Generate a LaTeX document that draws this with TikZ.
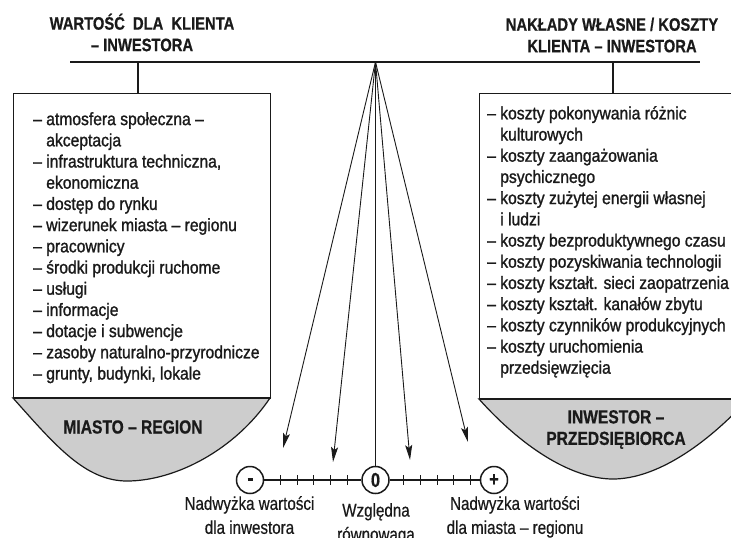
\documentclass[tikz,border=0pt]{standalone}
\usepackage{fontspec}
\setmainfont{Liberation Sans}
\newfontfamily\bodyfont{Liberation Sans}[FakeStretch=0.88,FakeBold=1.2]
\newfontfamily\headfont{Liberation Sans}[FakeStretch=0.82,FakeBold=0.6]
\newfontfamily\capfont{Liberation Sans}[FakeStretch=0.82,FakeBold=0.5]
\usetikzlibrary{arrows.meta}
\definecolor{ink}{HTML}{1A1A1A}
\definecolor{bowlgray}{HTML}{CDCDCD}

\begin{document}
\begin{tikzpicture}[x=1pt,y=-1pt,
  every node/.style={inner sep=0pt, text=ink},
  heading/.style={align=center, anchor=north, font=\headfont\bfseries\fontsize{18}{21.5}\selectfont},
  frame/.style={draw=ink, line width=1.3pt, rectangle, anchor=north west},
  listtext/.style={align=left, anchor=north west, font=\bodyfont\fontsize{17.8}{21.2}\selectfont},
  basin/.style={fill=bowlgray, draw=ink, line width=1.2pt},
  basinlabel/.style={align=center, font=\headfont\bfseries\fontsize{19}{21.5}\selectfont},
  fan/.style={draw=ink, line width=0.9pt},
  fanarrow/.style={fan, -{Stealth[length=15pt,width=7pt,inset=3pt]}},
  dial/.style={circle, draw=ink, line width=1.5pt, minimum size=27pt, fill=white,
    font=\headfont\bfseries\fontsize{20}{20}\selectfont},
  caption/.style={align=center, anchor=north, font=\capfont\fontsize{18.5}{24}\selectfont},
]
\useasboundingbox (0,0) rectangle (731,538);
\fill[white] (0,0) rectangle (731,538);
\clip (0,0) rectangle (731,538);

% headings over the two pans
\node[heading] (headL) at (142,13.5) {WARTOŚĆ\hspace{4pt} DLA\hspace{4pt} KLIENTA\\– INWESTORA};
\node[heading] (headR) at (612,17.5) {NAKŁADY WŁASNE / KOSZTY\\KLIENTA – INWESTORA};

% balance beam and pivot
\coordinate (beamL) at (70,62);
\coordinate (beamR) at (700,62);
\coordinate (pivot) at (375.5,62);
\coordinate (hookL) at (138,62);
\coordinate (hookR) at (613,62);
\draw[ink, line width=2.4pt] (beamL) -- (beamR);

% pans
\node[frame, minimum width=257pt, minimum height=305pt] (boxL) at (13,93) {};
\node[frame, minimum width=269pt, minimum height=306pt] (boxR) at (479,93) {};
\draw[ink, line width=1.3pt] (hookL) -- (hookL |- boxL.north);
\draw[ink, line width=1.3pt] (hookR) -- (hookR |- boxR.north);

% bowls under the pans
\draw[basin] (13,398) .. controls (55,445) and (85,481) .. (127,481)
  .. controls (175,481) and (235,450) .. (270,398) -- cycle;
\draw[basin] (479,399) .. controls (520,445) and (570,479) .. (613,479)
  .. controls (656,479) and (706,445) .. (748,399) -- cycle;
\draw[ink, line width=1.8pt] (13,398) -- (270,398);
\draw[ink, line width=1.8pt] (479,399) -- (748,399);

\node[basinlabel] (cityL) at (133,427) {MIASTO – REGION};
\node[basinlabel] (invR) at (616,429.5) {INWESTOR –\\PRZEDSIĘBIORCA};

% lists of factors
\node[listtext] (listL) at (33,112) {%
– atmosfera społeczna –\\
\hphantom{–\ }akceptacja\\
– infrastruktura techniczna,\\
\hphantom{–\ }ekonomiczna\\
– dostęp do rynku\\
– wizerunek miasta – regionu\\
– pracownicy\\
– środki produkcji ruchome\\
– usługi\\
– informacje\\
– dotacje i subwencje\\
– zasoby naturalno-przyrodnicze\\
– grunty, budynki, lokale};

\node[listtext] (listR) at (487,106) {%
– koszty pokonywania różnic\\
\hphantom{–\ }kulturowych\\
– koszty zaangażowania\\
\hphantom{–\ }psychicznego\\
– koszty zużytej energii własnej\\
\hphantom{–\ }i ludzi\\
– koszty bezproduktywnego czasu\\
– koszty pozyskiwania technologii\\
– koszty kształt. sieci zaopatrzenia\\
– koszty kształt. kanałów zbytu\\
– koszty czynników produkcyjnych\\
– koszty uruchomienia\\
\hphantom{–\ }przedsięwzięcia};

% scale
\node[dial] (minus) at (250,480) {\raisebox{1pt}{\rule{5pt}{2.6pt}}};
\node[dial] (zero) at (375.5,480) {0};
\node[dial] (plus) at (494,480) {+};
\draw[ink, line width=1.3pt] (minus) -- (zero);
\draw[ink, line width=1.3pt] (zero) -- (plus);
\foreach \tx in {280,297,313,330,347,403,420,437,453,470}
  \draw[ink, line width=1pt] (\tx,475) -- (\tx,485);

% pointer fan from the pivot
\coordinate (tipA) at (283,448);
\coordinate (tipB) at (333,462);
\coordinate (tipC) at (410,460);
\coordinate (tipD) at (468,442);
\draw[fan, line width=1.3pt] (pivot) -- (zero.north);
\draw[fanarrow] (pivot) -- (tipA);
\draw[fanarrow] (pivot) -- (tipB);
\draw[fanarrow] (pivot) -- (tipC);
\draw[fanarrow] (pivot) -- (tipD);

% captions under the scale
\node[caption] (capL) at (249.5,496) {Nadwyżka wartości\\dla inwestora};
\node[caption] (capM) at (376,503) {Względna\\równowaga};
\node[caption] (capR) at (515,496) {Nadwyżka wartości\\dla miasta – regionu};
\end{tikzpicture}
\end{document}
